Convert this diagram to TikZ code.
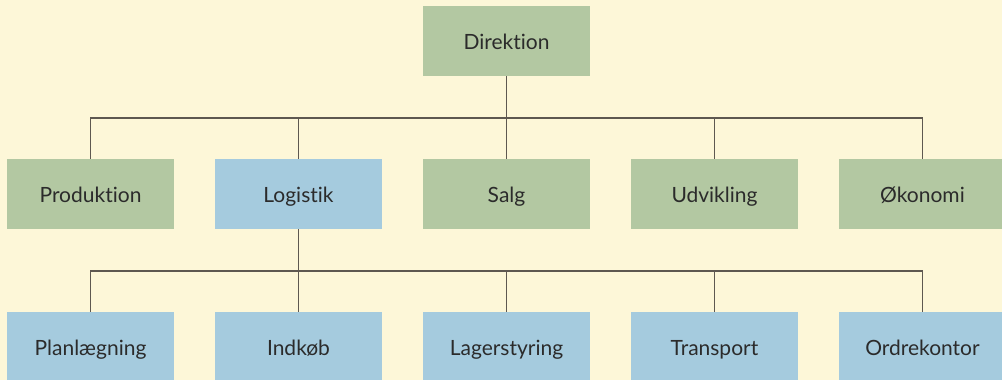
\documentclass[tikz,border=0pt]{standalone}
\usepackage{fontspec}
\setmainfont{Lato}[Ligatures={NoCommon}]
\definecolor{paper}{HTML}{FDF7D8}
\definecolor{boxgreen}{HTML}{B3C8A2}
\definecolor{boxblue}{HTML}{A5CBDE}
\definecolor{linegray}{HTML}{5E5850}
\definecolor{textgray}{HTML}{2B2B2B}
\tikzset{
  unit/.style={fill=#1, minimum width=167pt, minimum height=70pt, inner sep=0pt,
    text height=20pt, text depth=4pt,
    text=textgray, font=\fontsize{21}{24}\selectfont},
  link/.style={draw=linegray, line width=1.6pt}
}
\begin{document}
\begin{tikzpicture}[x=1pt, y=-1pt]
		\useasboundingbox (0,0) rectangle (1002,380);
		\clip (0,0) rectangle (1002,380);
		\fill[paper] (0,0) rectangle (1002,380);
		
		\node[unit=boxgreen] (dir) at (506.5,41) {Direktion};
		
		\node[unit=boxgreen] (prod) at (90.5,194) {Produktion};
		\node[unit=boxblue] (log) at (298.5,194) {Logistik};
		\node[unit=boxgreen] (salg) at (506.5,194) {Salg};
		\node[unit=boxgreen] (udv) at (714.5,194) {Udvikling};
		\node[unit=boxgreen] (oko) at (922.5,194) {Økonomi};
		
		\node[unit=boxblue] (plan) at (90.5,347) {Planlægning};
		\node[unit=boxblue] (ind) at (298.5,347) {Indkøb};
		\node[unit=boxblue] (lager) at (506.5,347) {Lagerstyring};
		\node[unit=boxblue] (trans) at (714.5,347) {Transport};
		\node[unit=boxblue] (ordre) at (922.5,347) {Ordrekontor};
		
		\foreach \n in {prod,log,salg,udv,oko}
		  \draw[link] (dir.south) -- ++(0,41.5) -| (\n.north);
		\foreach \n in {plan,ind,lager,trans,ordre}
		  \draw[link] (log.south) -- ++(0,41.5) -| (\n.north);
		\end{tikzpicture}
\end{document}
